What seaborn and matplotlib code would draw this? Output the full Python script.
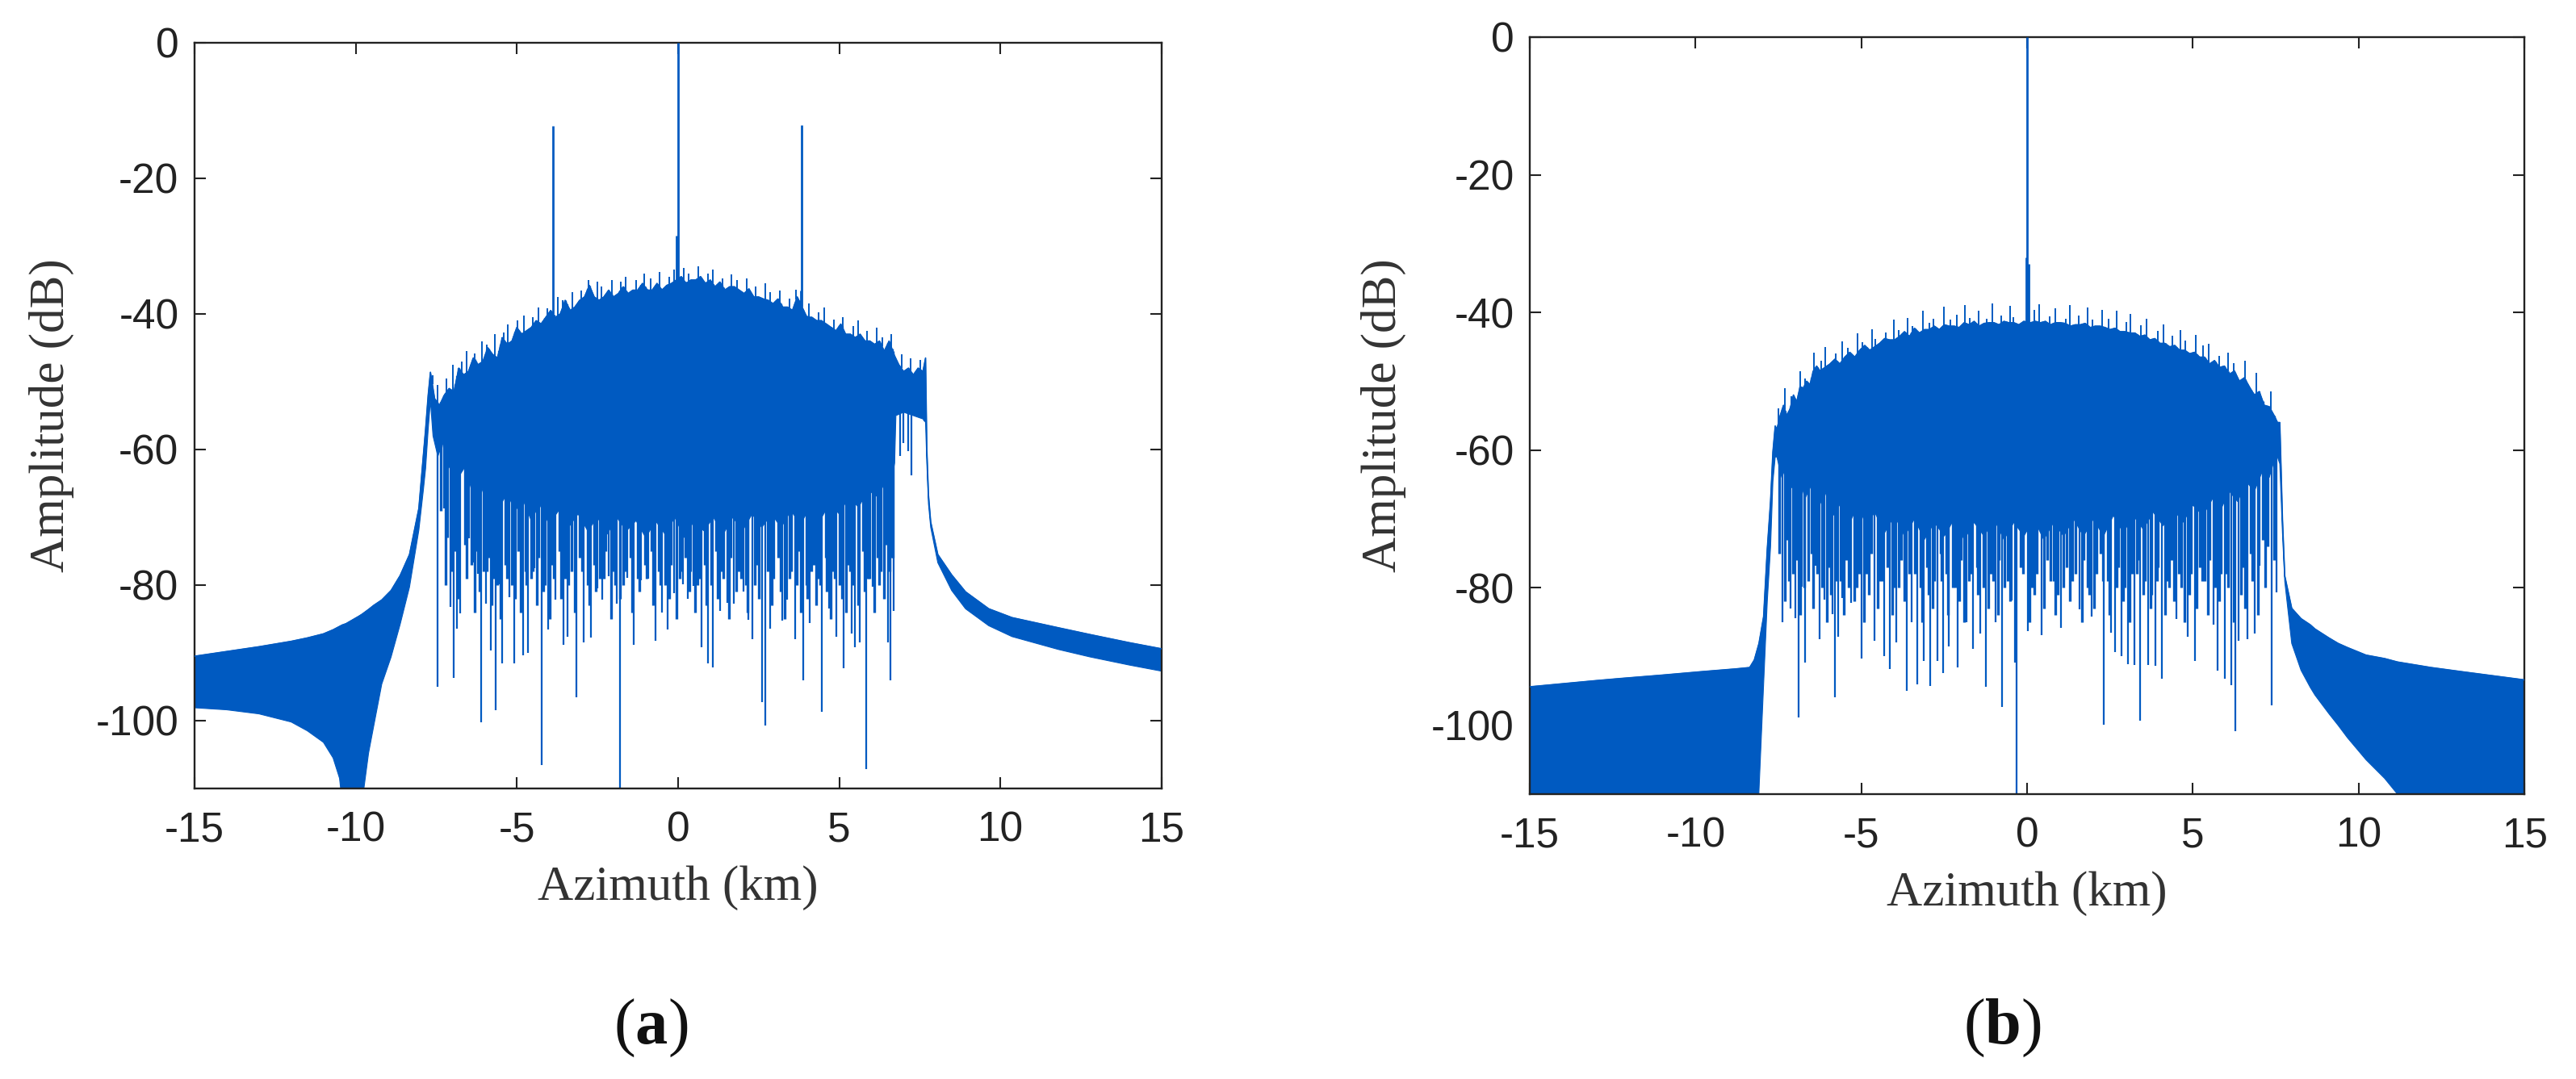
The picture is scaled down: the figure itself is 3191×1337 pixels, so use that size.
import numpy as np
import matplotlib
matplotlib.use("Agg")
import matplotlib.pyplot as plt
import seaborn as sns

BLUE = "#005AC1"
INK = "#222222"

# ---------------- panel (a) ----------------
# left tail (upper / lower edge of the dense oscillation)
a_left_x = [-15, -14, -13, -12, -11.5, -11, -10.7, -10.5, -10.42, -10.3, -9.9, -9.8,
            -9.6, -9.44, -9.19, -8.9, -8.62, -8.33, -8.04, -7.9, -7.83, -7.75]
a_left_top = [-90.5, -89.8, -89.1, -88.3, -87.8, -87.2, -86.6, -86.1, -85.9, -85.7, -84.6, -84.3,
              -83.6, -83.0, -82.2, -80.8, -78.6, -75.5, -68.7, -60.8, -57.0, -52.0]
a_left_bot = [-98.1, -98.4, -99.0, -100.2, -101.5, -103.2, -105.5, -108.5, -112, -112, -112, -112,
              -104.8, -100.8, -94.6, -90.6, -85.8, -80.3, -71.9, -66.0, -62.8, -57.0]

# main lobe: upper edge
a_band_x = [-7.68, -7.55, -7.4, -7.25, -7.1, -6.95, -6.8, -6.65, -6.5, -6.35,
            -6.2, -6.05, -5.9, -5.75, -5.6, -5.45, -5.3, -5.15, -5.0, -4.85,
            -4.7, -4.55, -4.4, -4.25, -4.1, -3.95, -3.8, -3.65, -3.5, -3.35,
            -3.2, -3.05, -2.9, -2.75, -2.6, -2.45, -2.3, -2.15, -2.0, -1.85,
            -1.7, -1.55, -1.4, -1.25, -1.1, -0.95, -0.8, -0.65, -0.5, -0.35,
            -0.2, -0.05, 0.1, 0.25, 0.4, 0.55, 0.7, 0.85, 1.0, 1.15,
            1.3, 1.45, 1.6, 1.75, 1.9, 2.05, 2.2, 2.35, 2.5, 2.65,
            2.8, 2.95, 3.1, 3.25, 3.4, 3.55, 3.7, 3.85, 4.0, 4.15,
            4.3, 4.45, 4.6, 4.75, 4.9, 5.05, 5.2, 5.35, 5.5, 5.65,
            5.8, 5.95, 6.1, 6.25, 6.4, 6.55, 6.7, 6.85, 7.0, 7.15,
            7.3, 7.45, 7.6, 7.68]
a_band_top = [-48.6, -52.5, -53.5, -52.0, -51.0, -51.5, -48.0, -49.0, -48.5, -46.5,
              -47.5, -47.0, -45.0, -46.0, -46.5, -43.5, -44.5, -44.0, -42.0, -43.0,
              -42.5, -42.0, -41.0, -41.5, -40.5, -39.5, -40.5, -40.0, -38.0, -39.5,
              -39.0, -38.0, -37.5, -35.8, -37.5, -38.0, -37.5, -36.5, -37.5, -37.0,
              -36.0, -37.0, -36.5, -36.5, -35.5, -36.5, -36.5, -35.5, -36.5, -35.8,
              -35.5, -35.0, -34.5, -35.5, -35.0, -35.0, -34.5, -35.5, -35.0, -36.0,
              -35.3, -36.5, -36.0, -36.0, -36.5, -37.0, -36.3, -37.5, -37.5, -37.8,
              -38.0, -38.5, -37.8, -39.0, -39.0, -39.5, -37.5, -39.0, -40.5, -40.5,
              -41.0, -41.0, -41.5, -42.0, -42.5, -41.5, -43.0, -43.0, -43.5, -43.0,
              -44.0, -44.0, -44.5, -44.0, -45.5, -44.0, -46.0, -47.5, -48.5, -48.0,
              -49.0, -48.0, -48.5, -46.5]
# thin upward excursions above the lobe edge
a_tip_x = [-7.62, -7.45, -7.18, -6.98, -6.72, -6.57, -6.31, -6.08, -5.93, -5.67,
           -5.41, -5.27, -4.98, -4.79, -4.51, -4.33, -4.05, -3.72, -3.58, -3.27,
           -3.01, -2.78, -2.51, -2.37, -2.06, -1.77, -1.63, -1.31, -1.04, -0.86,
           -0.57, -0.26, -0.12, 0.17, 0.33, 0.64, 0.92, 1.07, 1.38, 1.66,
           1.84, 2.13, 2.41, 2.72, 2.87, 3.17, 3.46, 3.67, 4.07, 4.37,
           4.54, 4.83, 5.12, 5.43, 5.58, 5.87, 6.17, 6.33, 6.62, 6.93,
           7.22, 7.52]
a_tip_y = [-49.0, -50.5, -49.5, -47.5, -47.0, -45.5, -45.8, -44.0, -44.5, -43.0,
           -42.8, -41.5, -41.0, -40.2, -40.5, -39.0, -39.2, -37.5, -38.0, -36.8,
           -36.5, -35.0, -35.3, -36.0, -35.0, -35.2, -34.5, -35.0, -34.0, -34.8,
           -33.8, -34.5, -33.5, -33.2, -34.0, -33.0, -34.0, -33.5, -34.8, -34.2,
           -35.0, -34.8, -36.0, -35.5, -36.8, -36.5, -37.8, -36.4, -38.5, -39.8,
           -39.0, -40.8, -40.5, -41.8, -41.0, -42.5, -42.0, -43.5, -43.0, -46.0,
           -46.5, -46.8]
# main lobe: lower edge of the solid part
a_floor_x = [-7.68, -7.6, -7.45, -7.3, -7.15, -6.95, -6.8, -6.6, -6.4, -6.2,
             -6.0, -5.8, -5.55, -5.3, -5.05, -4.8, -4.55, -4.3, -4.0, -3.7,
             -3.4, -3.1, -2.8, -2.5, -2.2, -1.9, -1.6, -1.3, -1.0, -0.7,
             -0.4, -0.1, 0.2, 0.5, 0.8, 1.1, 1.4, 1.7, 2.0, 2.3,
             2.6, 2.9, 3.2, 3.5, 3.8, 4.1, 4.4, 4.7, 5.0, 5.3,
             5.6, 5.9, 6.2, 6.45, 6.6, 6.72, 6.76, 7.0, 7.3, 7.6,
             7.68]
a_floor_y = [-52.8, -58.0, -61.0, -59.0, -63.0, -61.5, -64.0, -62.5, -66.0, -64.0,
             -67.0, -65.0, -68.5, -66.5, -69.0, -67.5, -70.5, -68.0, -71.0, -69.0,
             -71.5, -69.5, -72.0, -70.0, -72.5, -70.0, -72.0, -70.5, -73.0, -70.5,
             -72.5, -70.0, -73.0, -70.5, -72.0, -70.0, -72.5, -70.0, -72.0, -69.5,
             -71.5, -69.5, -71.5, -69.0, -71.0, -68.5, -70.5, -68.0, -69.5, -67.0,
             -68.5, -66.0, -67.0, -64.5, -65.0, -62.0, -55.0, -54.5, -55.0, -55.5,
             -56.0]

# right tail
a_right_x = [7.72, 7.77, 7.84, 8.06, 8.49, 8.92, 9.64, 10.36, 11.8, 12.78, 14.0, 15.0]
a_right_top = [-60.0, -66.7, -70.7, -75.5, -78.5, -81.0, -83.5, -84.8, -86.3, -87.3, -88.5, -89.4]
a_right_bot = [-62.0, -68.0, -71.5, -76.7, -80.8, -83.5, -86.0, -87.6, -89.5, -90.6, -91.8, -92.7]

# deep nulls inside the main lobe
a_spike_x = [-7.47, -7.25, -7.06, -6.96, -6.85, -6.75, -6.49, -6.36, -6.20, -6.10,
             -5.96, -5.81, -5.65, -5.55, -5.45, -5.24, -5.09, -4.81, -4.66, -4.45,
             -4.23, -4.02, -3.80, -3.56, -3.44, -3.15, -2.92, -2.69, -2.51, -2.36,
             -2.15, -1.89, -1.79, -1.57, -1.38, -1.14, -0.92, -0.71, -0.49, -0.32,
             -0.13, 0.15, 0.30, 0.47, 0.73, 0.94, 1.09, 1.30, 1.52, 1.73,
             2.02, 2.19, 2.31, 2.60, 2.71, 2.86, 3.24, 3.39, 3.63, 3.89,
             4.08, 4.47, 4.68, 4.90, 5.14, 5.40, 5.50, 5.65, 5.85, 6.05,
             6.41, 6.52, 6.59, 6.69, 6.88, 6.98, 7.13, 7.24, 7.44, 7.63]
a_spike_y = [-95.0, -68.7, -83.2, -93.7, -86.4, -84.2, -73.1, -76.7, -78.3, -100.2,
             -82.8, -89.6, -98.4, -79.9, -91.6, -81.8, -91.6, -90.4, -90.0, -77.5,
             -106.6, -86.6, -82.2, -88.8, -87.6, -96.5, -88.4, -87.7, -80.5, -82.2,
             -78.7, -82.8, -109.9, -78.9, -88.8, -79.3, -79.1, -88.2, -84.0, -86.6,
             -81.2, -79.9, -82.0, -80.1, -89.2, -91.5, -92.2, -83.8, -82.6, -82.8,
             -81.0, -85.1, -88.0, -97.3, -100.7, -86.4, -85.2, -82.2, -88.0, -94.1,
             -85.6, -98.7, -83.4, -87.6, -92.3, -87.1, -89.2, -88.5, -107.1, -80.2,
             -82.0, -88.5, -94.1, -83.8, -61.0, -59.0, -60.2, -63.8, -54.8, -55.8]
# shallower nulls (fringe under the solid part)
a_fringe_x = [-7.35, -7.15, -6.9, -6.62, -6.42, -6.28, -6.03, -5.88, -5.72, -5.35,
              -5.16, -4.95, -4.73, -4.55, -4.33, -4.12, -3.93, -3.68, -3.5, -3.3,
              -3.05, -2.8, -2.6, -2.43, -2.25, -2.02, -1.7, -1.47, -1.25, -1.03,
              -0.82, -0.6, -0.4, -0.22, 0.05, 0.22, 0.38, 0.6, 0.83, 1.18,
              1.4, 1.62, 1.87, 2.1, 2.45, 2.95, 3.1, 3.5, 3.75, 3.98,
              4.2, 4.35, 4.58, 4.8, 5.02, 5.27, 5.75, 5.95, 6.2, 6.3,
              6.46, 6.63]
a_fringe_y = [-69, -73, -75, -74, -77, -75, -78, -76, -79, -77,
              -80, -75, -78, -79, -76, -80, -77, -75, -79, -78,
              -76, -80, -77, -79, -75, -78, -80, -76, -79, -77,
              -75, -78, -80, -77, -79, -76, -78, -80, -77, -75,
              -79, -76, -78, -80, -77, -79, -76, -78, -75, -80,
              -77, -79, -76, -78, -80, -77, -75, -79, -76, -78,
              -74, -76]
a_fringe2_x = [-7.20, -7.00, -6.80, -6.55, -6.32, -6.15, -5.92, -5.77, -5.60, -5.50,
               -5.30, -5.05, -4.88, -4.70, -4.50, -4.38, -4.18, -3.98, -3.86, -3.62,
               -3.40, -3.20, -2.98, -2.75, -2.55, -2.30, -2.08, -1.95, -1.80, -1.62,
               -1.42, -1.20, -0.98, -0.77, -0.55, -0.27, -0.05, 0.10, 0.35, 0.53,
               0.68, 0.88, 1.03, 1.24, 1.35, 1.57, 1.80, 1.95, 2.15, 2.37,
               2.52, 2.78, 2.92, 3.18, 3.32, 3.45, 3.68, 3.82, 4.02, 4.14,
               4.28, 4.42, 4.62, 4.74, 4.86, 5.08, 5.20, 5.33, 5.45, 5.60,
               5.80, 5.90, 6.10, 6.25, 6.38, 6.56, 6.66]
a_fringe2_y = [-80, -78, -82, -79, -84, -81, -78, -83, -80, -85,
               -79, -82, -84, -80, -78, -83, -81, -85, -79, -82,
               -80, -84, -78, -83, -81, -79, -85, -80, -82, -78,
               -84, -81, -79, -83, -80, -82, -85, -78, -81, -84,
               -79, -83, -80, -82, -78, -85, -81, -79, -84, -80,
               -82, -78, -83, -81, -85, -79, -80, -84, -82, -78,
               -83, -80, -81, -85, -79, -82, -84, -78, -80, -83,
               -81, -79, -84, -80, -82, -78, -76]
# strong peaks (target and ghosts)
a_peak_x = [-3.87, -0.04, 0.0, 3.80, 3.84]
a_peak_y = [-12.3, -28.5, 0.0, -36.5, -12.1]

# ---------------- panel (b) ----------------
b_left_x = [-15, -13, -12.28, -11, -9.81, -8.79, -8.37, -8.23, -8.09, -7.95, -7.84, -7.74, -7.67, -7.6]
b_left_top = [-94.4, -93.5, -93.2, -92.7, -92.2, -91.8, -91.6, -90.5, -88.1, -84.2, -74.4, -67.4, -60.3, -56.5]
b_left_bot = [-125, -125, -125, -125, -125, -125, -125, -125, -109.5, -94.0, -82.0, -74.0, -64.6, -61.0]

b_band_x = [-7.55, -7.45, -7.35, -7.25, -7.15, -7.05, -6.95, -6.85, -6.75, -6.65,
            -6.55, -6.45, -6.35, -6.25, -6.1, -5.95, -5.8, -5.65, -5.5, -5.35,
            -5.2, -5.05, -4.9, -4.75, -4.6, -4.45, -4.3, -4.15, -4.0, -3.85,
            -3.7, -3.55, -3.4, -3.25, -3.1, -2.95, -2.8, -2.65, -2.5, -2.35,
            -2.2, -2.05, -1.9, -1.75, -1.6, -1.45, -1.3, -1.15, -1.0, -0.85,
            -0.7, -0.55, -0.4, -0.25, -0.1, 0.1, 0.25, 0.4, 0.55, 0.7,
            0.85, 1.0, 1.15, 1.3, 1.45, 1.6, 1.75, 1.9, 2.05, 2.2,
            2.35, 2.5, 2.65, 2.8, 2.95, 3.1, 3.25, 3.4, 3.55, 3.7,
            3.85, 4.0, 4.15, 4.3, 4.45, 4.6, 4.75, 4.9, 5.05, 5.2,
            5.35, 5.5, 5.65, 5.8, 5.95, 6.1, 6.25, 6.4, 6.55, 6.7,
            6.85, 7.0, 7.15, 7.3, 7.45, 7.55]
b_band_top = [-57.0, -55.0, -53.5, -55.0, -54.0, -52.0, -53.0, -50.8, -51.0, -50.0,
              -50.5, -48.5, -47.8, -48.5, -48.0, -47.5, -46.8, -47.5, -46.5, -45.8,
              -46.5, -45.5, -44.8, -45.5, -45.0, -44.5, -43.8, -44.0, -44.0, -43.5,
              -42.8, -43.5, -42.3, -43.0, -42.5, -42.5, -42.0, -42.5, -41.8, -42.0,
              -42.0, -42.2, -41.5, -41.8, -41.3, -42.0, -41.6, -41.5, -41.5, -41.8,
              -41.3, -41.5, -41.5, -41.8, -41.3, -41.5, -41.3, -41.5, -41.3, -41.8,
              -41.5, -41.5, -41.6, -42.0, -41.8, -41.8, -41.6, -42.2, -42.0, -42.0,
              -42.2, -42.5, -42.3, -42.8, -42.8, -43.0, -43.0, -43.5, -43.3, -44.0,
              -43.8, -44.5, -44.5, -45.0, -44.8, -45.5, -45.5, -46.0, -45.8, -46.5,
              -46.5, -47.5, -47.0, -48.0, -47.8, -49.0, -48.5, -50.0, -49.5, -50.8,
              -52.0, -51.5, -53.5, -53.7, -55.0, -56.0]
b_tip_x = [-7.50, -7.31, -7.12, -6.84, -6.70, -6.43, -6.21, -6.09, -5.78, -5.58,
           -5.42, -5.12, -4.97, -4.69, -4.58, -4.27, -4.02, -3.88, -3.61, -3.47,
           -3.15, -2.94, -2.82, -2.52, -2.31, -2.13, -1.87, -1.74, -1.46, -1.21,
           -1.05, -0.79, -0.52, -0.41, 0.21, 0.36, 0.68, 0.85, 1.17, 1.29,
           1.55, 1.83, 1.96, 2.27, 2.45, 2.71, 2.98, 3.12, 3.43, 3.61,
           3.93, 4.12, 4.38, 4.63, 4.77, 5.08, 5.31, 5.48, 5.79, 6.05,
           6.24, 6.58, 6.92, 7.35]
b_tip_y = [-54.0, -51.0, -52.2, -48.5, -49.6, -45.8, -47.0, -45.0, -46.0, -44.2,
           -45.1, -43.0, -44.3, -42.5, -43.8, -42.9, -41.0, -42.6, -40.8, -42.0,
           -39.8, -41.5, -40.9, -39.2, -41.0, -40.3, -38.9, -40.8, -39.7, -40.9,
           -38.7, -40.4, -39.1, -40.7, -39.6, -38.8, -40.6, -39.4, -40.9, -38.9,
           -40.5, -39.3, -41.0, -39.6, -40.9, -39.8, -41.4, -40.2, -41.9, -40.9,
           -42.7, -41.8, -43.4, -42.6, -44.1, -43.3, -44.8, -44.6, -46.3, -45.8,
           -47.4, -47.0, -48.8, -51.5]
b_floor_x = [-7.55, -7.4, -7.25, -7.1, -6.9, -6.7, -6.5, -6.3, -6.1, -5.85,
             -5.6, -5.35, -5.1, -4.85, -4.6, -4.3, -4.0, -3.7, -3.4, -3.1,
             -2.8, -2.5, -2.2, -1.9, -1.6, -1.3, -1.0, -0.7, -0.4, -0.1,
             0.2, 0.5, 0.8, 1.1, 1.4, 1.7, 2.0, 2.3, 2.6, 2.9,
             3.2, 3.5, 3.8, 4.1, 4.4, 4.7, 5.0, 5.3, 5.6, 5.85,
             6.1, 6.35, 6.6, 6.85, 7.1, 7.3, 7.45, 7.55]
b_floor_y = [-61.0, -64.0, -62.0, -65.5, -63.5, -67.0, -65.0, -68.5, -66.0, -69.5,
             -67.5, -70.5, -68.0, -71.0, -69.0, -72.0, -69.5, -72.5, -70.0, -73.0,
             -70.5, -72.5, -70.0, -73.0, -70.5, -72.5, -70.0, -73.0, -70.5, -72.5,
             -70.0, -73.0, -70.5, -72.5, -70.0, -72.5, -70.0, -72.5, -69.5, -72.0,
             -69.5, -71.5, -69.0, -71.0, -68.5, -70.5, -68.0, -69.5, -67.0, -68.5,
             -66.0, -67.5, -64.5, -66.0, -63.0, -64.0, -61.5, -61.0]

b_right_x = [7.62, 7.7, 7.77, 7.98, 8.26, 8.54, 8.68, 9.1, 9.38, 9.66,
             10.22, 10.78, 11.17, 12.18, 13.1, 15.0]
b_right_top = [-56.0, -70.0, -78.3, -83.0, -84.5, -85.4, -86.0, -87.3, -88.1, -88.7,
               -89.8, -90.3, -90.8, -91.6, -92.2, -93.4]
b_right_bot = [-62.0, -72.0, -79.1, -88.1, -92.0, -94.5, -95.6, -98.3, -100.0, -101.8,
               -105.0, -107.7, -110.0, -116.0, -120.0, -125.0]

b_spike_x = [-7.39, -7.14, -7.00, -6.90, -6.79, -6.69, -6.39, -6.27, -6.11, -5.88,
             -5.79, -5.69, -5.58, -5.30, -4.99, -4.60, -4.32, -4.14, -3.94, -3.62,
             -3.48, -3.31, -3.13, -2.92, -2.71, -2.54, -2.36, -2.11, -1.84, -1.63,
             -1.41, -1.24, -0.96, -0.75, -0.47, -0.36, -0.31, 0.02, 0.43, 1.03,
             1.58, 1.94, 2.32, 2.53, 2.64, 2.84, 3.05, 3.23, 3.41, 3.65,
             3.86, 4.07, 4.49, 4.84, 5.05, 5.61, 5.75, 5.96, 6.16, 6.28,
             6.37, 6.65, 6.86, 7.00, 7.38, 7.53]
b_spike_y = [-85.0, -83.0, -84.4, -98.9, -79.9, -90.9, -76.8, -87.5, -81.7, -83.8,
             -95.9, -87.1, -81.5, -82.2, -90.3, -87.7, -89.9, -91.8, -87.9, -95.0,
             -85.0, -94.0, -90.7, -94.3, -90.7, -92.4, -88.5, -91.6, -85.0, -88.9,
             -86.7, -94.4, -85.0, -97.3, -81.8, -90.9, -112.0, -86.3, -86.9, -85.8,
             -83.2, -84.2, -99.9, -86.5, -89.3, -89.9, -91.1, -91.2, -99.3, -91.2,
             -91.4, -93.2, -84.6, -87.1, -90.7, -85.4, -92.0, -93.2, -94.2, -100.8,
             -87.7, -87.5, -86.7, -76.8, -97.1, -80.7]
b_fringe_x = [-7.48, -7.25, -7.07, -6.95, -6.6, -6.5, -6.2, -6.0, -5.75, -5.45,
              -5.15, -4.85, -4.7, -4.45, -4.22, -4.03, -3.8, -3.55, -3.22, -3.02,
              -2.8, -2.62, -2.45, -2.25, -2.0, -1.75, -1.52, -1.32, -1.1, -0.85,
              -0.6, -0.2, 0.15, 0.3, 0.6, 0.8, 0.92, 1.2, 1.35, 1.7,
              1.82, 2.1, 2.2, 2.42, 2.75, 2.95, 3.15, 3.32, 3.55, 3.75,
              3.95, 4.2, 4.35, 4.65, 4.95, 5.2, 5.35, 5.5, 5.85, 6.05,
              6.5, 6.75, 7.1, 7.25]
b_fringe_y = [-75, -73, -78, -76, -79, -75, -80, -77, -79, -76,
              -80, -78, -75, -79, -77, -80, -76, -78, -80, -77,
              -79, -75, -78, -80, -76, -79, -77, -80, -78, -76,
              -79, -77, -80, -78, -76, -79, -81, -77, -79, -76,
              -80, -78, -75, -79, -77, -80, -78, -76, -79, -81,
              -77, -79, -76, -80, -78, -77, -79, -76, -78, -80,
              -77, -75, -73, -74]
b_fringe2_x = [-7.30, -7.18, -6.85, -6.72, -6.45, -6.33, -6.05, -5.92, -5.62, -5.52,
               -5.38, -5.22, -5.08, -4.92, -4.78, -4.52, -4.38, -4.08, -3.88, -3.70,
               -3.40, -3.18, -2.98, -2.85, -2.58, -2.40, -2.18, -2.05, -1.90, -1.68,
               -1.48, -1.18, -1.02, -0.88, -0.68, -0.52, -0.12, 0.08, 0.22, 0.50,
               0.70, 0.86, 1.10, 1.28, 1.45, 1.65, 1.88, 2.02, 2.28, 2.48,
               2.70, 2.90, 3.10, 3.30, 3.50, 3.72, 3.92, 4.15, 4.28, 4.42,
               4.58, 4.75, 4.90, 5.12, 5.28, 5.45, 5.68, 5.80, 6.00, 6.22,
               6.45, 6.58, 6.80, 6.95, 7.18, 7.45]
b_fringe2_y = [-82, -79, -84, -80, -83, -78, -85, -81, -79, -84,
               -80, -82, -78, -85, -81, -83, -79, -84, -80, -82,
               -78, -85, -81, -83, -79, -84, -80, -82, -85, -78,
               -81, -83, -79, -84, -80, -82, -78, -85, -81, -83,
               -79, -84, -80, -82, -78, -85, -81, -83, -79, -84,
               -80, -82, -85, -78, -81, -83, -79, -84, -80, -82,
               -78, -85, -81, -83, -79, -84, -80, -82, -78, -85,
               -81, -83, -79, -84, -80, -76]
b_peak_x = [-0.04, 0.0, 0.05]
b_peak_y = [-32.0, 0.0, -33.0]

X_TICKS = [-15, -10, -5, 0, 5, 10, 15]
Y_TICKS = [-100, -80, -60, -40, -20, 0]

sns.set_theme(style="ticks")
plt.rcParams["font.family"] = ["Liberation Sans", "DejaVu Sans"]
plt.rcParams["axes.unicode_minus"] = False
plt.rcParams["mathtext.fontset"] = "custom"
plt.rcParams["mathtext.rm"] = "Liberation Serif"
plt.rcParams["mathtext.bf"] = "Liberation Serif:bold"


def draw_panel(ax, tails, band, floor, fringes, spikes, tips, peaks):
    lx, ltop, lbot, rx, rtop, rbot = tails
    bx, btop = band
    fx, fy = floor
    top_x = np.r_[lx, bx, rx]
    top_y = np.r_[ltop, btop, rtop]
    bot_x = np.r_[lx, fx, rx]
    bot_y = np.r_[lbot, fy, rbot]
    ax.fill(np.r_[top_x, bot_x[::-1]], np.r_[top_y, bot_y[::-1]],
            color=BLUE, lw=0.8, ec=BLUE, zorder=2)
    sns.lineplot(x=top_x, y=top_y, ax=ax, color=BLUE, lw=1.2,
                 sort=False, estimator=None, legend=False, zorder=3)
    # nulls hang down from the lobe, tips and peaks stick up from it
    for sx, sy in fringes:
        ax.vlines(sx, sy, np.interp(sx, bx, btop), color=BLUE, lw=2.4, zorder=2)
    sx, sy = spikes
    ax.vlines(sx, sy, np.interp(sx, bx, btop), color=BLUE, lw=1.6, zorder=2)
    tx, ty = tips
    ax.vlines(tx, ty, np.interp(tx, bx, btop), color=BLUE, lw=1.4, zorder=3)
    px, py = peaks
    ax.vlines(px, py, np.interp(px, bx, btop), color=BLUE, lw=2.0, zorder=3)

    ax.set_xlim(-15, 15)
    ax.set_ylim(-110, 0)
    ax.set_xticks(X_TICKS)
    ax.set_yticks(Y_TICKS)
    ax.tick_params(direction="in", length=10, width=1.5, top=True, right=True,
                   labelsize=37, color=INK, labelcolor=INK)
    ax.tick_params(axis="x", pad=20)
    ax.tick_params(axis="y", pad=14)
    for sp in ax.spines.values():
        sp.set_linewidth(1.7)
        sp.set_color(INK)
    ax.set_xlabel("Azimuth (km)", fontsize=44, family="Liberation Serif", color="#333333")
    ax.set_ylabel("Amplitude (dB)", fontsize=44, family="Liberation Serif", color="#333333")
    ax.grid(False)


fig = plt.figure(figsize=(31.91, 13.37), dpi=100)
ax_a = fig.add_axes([0.0755, 0.2693, 0.3754, 0.6911])
ax_b = fig.add_axes([0.5939, 0.2640, 0.3861, 0.7016])

draw_panel(ax_a,
           (a_left_x, a_left_top, a_left_bot, a_right_x, a_right_top, a_right_bot),
           (a_band_x, a_band_top), (a_floor_x, a_floor_y),
           [(a_fringe_x, a_fringe_y), (a_fringe2_x, a_fringe2_y)],
           (a_spike_x, a_spike_y), (a_tip_x, a_tip_y), (a_peak_x, a_peak_y))
draw_panel(ax_b,
           (b_left_x, b_left_top, b_left_bot, b_right_x, b_right_top, b_right_bot),
           (b_band_x, b_band_top), (b_floor_x, b_floor_y),
           [(b_fringe_x, b_fringe_y), (b_fringe2_x, b_fringe2_y)],
           (b_spike_x, b_spike_y), (b_tip_x, b_tip_y), (b_peak_x, b_peak_y))

ax_a.yaxis.set_label_coords(-0.124, 0.5)
ax_b.yaxis.set_label_coords(-0.124, 0.5)
ax_a.xaxis.set_label_coords(0.5, -0.103)
ax_b.xaxis.set_label_coords(0.5, -0.101)

fig.text(806 / 3191, 1 - 1274 / 1337, r"($\mathbf{a}$)", ha="center", va="center",
         fontsize=58, family="Liberation Serif", color="#111111")
fig.text(2480 / 3191, 1 - 1274 / 1337, r"($\mathbf{b}$)", ha="center", va="center",
         fontsize=58, family="Liberation Serif", color="#111111")

fig.savefig("out.png", dpi=100, facecolor="white")
